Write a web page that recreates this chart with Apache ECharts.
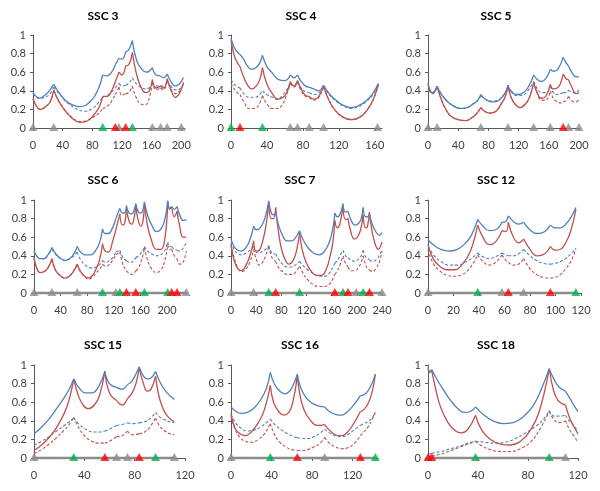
<!DOCTYPE html>
<html>
<head>
<meta charset="utf-8">
<script src="https://cdn.jsdelivr.net/npm/echarts@6/dist/echarts.min.js"></script>
<style>html,body{margin:0;padding:0;background:#fff}#c{width:600px;height:491px}</style>
</head>
<body>
<div id="c"></div>
<script>
// ---------------- DATA ----------------
const titles = ['SSC 3','SSC 4','SSC 5','SSC 6','SSC 7','SSC 12','SSC 15','SSC 16','SSC 18'];
const yTicks = [0, 0.2, 0.4, 0.6, 0.8, 1];
const xTicks3 = [0,40,80,120,160,200];
const xTicks4 = [0,40,80,120,160];
const xTicks5 = [0,40,80,120,160,200];
const xTicks6 = [0,40,80,120,160,200];
const xTicks7 = [0,40,80,120,160,200,240];
const xTicks12 = [0,20,40,60,80,100,120];
const xTicks15 = [0,40,80,120];
const xTicks16 = [0,40,80,120];
const xTicks18 = [0,40,80,120];

// SSC 3
const grey3 = [0,28,116,161,172,181,200];
const green3 = [94,134];
const red3m = [111,125];
const blue3 = [[0,.38],[4,.34],[8,.32],[14,.34],[20,.38],[28,.47],[36,.37],[48,.27],[63,.23],[78,.29],[88,.42],[94,.57],[100,.56],[106,.6],[111,.68],[116,.75],[120,.74],[125,.82],[129,.84],[134,.94],[140,.72],[147,.63],[153,.6],[161,.65],[166,.57],[172,.56],[176,.54],[181,.58],[186,.5],[192,.45],[197,.47],[203,.54]];
const red3 = [[0,.32],[5,.23],[10,.2],[17,.23],[23,.28],[28,.41],[34,.3],[42,.2],[52,.11],[63,.06],[72,.07],[82,.14],[89,.22],[94,.34],[100,.34],[106,.4],[111,.5],[116,.6],[120,.57],[125,.67],[129,.68],[134,.81],[139,.6],[145,.45],[152,.38],[157,.4],[161,.52],[166,.43],[172,.45],[176,.43],[181,.53],[186,.41],[192,.33],[198,.38],[203,.49]];
const blueD3 = [[0,.37],[8,.32],[16,.33],[23,.37],[28,.44],[36,.36],[48,.26],[60,.2],[70,.18],[80,.21],[88,.27],[94,.33],[100,.35],[106,.39],[111,.43],[116,.48],[120,.45],[125,.46],[129,.48],[134,.54],[140,.47],[147,.43],[154,.42],[161,.49],[166,.45],[172,.46],[176,.45],[181,.5],[187,.44],[193,.41],[198,.42],[203,.47]];
const redD3 = [[0,.31],[5,.23],[10,.2],[17,.23],[23,.28],[28,.4],[34,.3],[42,.2],[52,.12],[63,.07],[72,.08],[82,.12],[89,.16],[94,.21],[100,.23],[106,.29],[111,.36],[116,.44],[120,.35],[125,.37],[129,.38],[134,.45],[139,.33],[145,.26],[151,.25],[156,.3],[161,.5],[166,.41],[172,.43],[176,.41],[181,.52],[186,.42],[192,.37],[198,.4],[203,.48]];

// SSC 4
const grey4 = [66,74,87,103,163];
const green4 = [0,35];
const red4m = [10];
const blue4 = [[0,.97],[3,.88],[6,.83],[10,.79],[14,.74],[18,.67],[23,.63],[28,.65],[32,.7],[35,.78],[40,.66],[46,.59],[53,.52],[60,.51],[66,.57],[70,.54],[74,.57],[78,.5],[83,.45],[87,.44],[92,.42],[97,.4],[103,.46],[110,.36],[118,.29],[126,.24],[134,.22],[142,.24],[150,.29],[157,.36],[164,.48]];
const red4 = [[0,.95],[3,.8],[6,.72],[10,.66],[14,.55],[18,.47],[23,.42],[28,.45],[32,.52],[35,.65],[40,.47],[46,.37],[52,.31],[58,.33],[62,.38],[66,.5],[70,.45],[74,.51],[78,.42],[83,.35],[87,.34],[92,.31],[97,.33],[103,.45],[108,.32],[115,.2],[124,.12],[134,.09],[144,.12],[152,.2],[158,.3],[164,.47]];
const blueD4 = [[0,.52],[3,.48],[6,.45],[10,.43],[15,.36],[20,.33],[26,.33],[31,.35],[35,.4],[40,.36],[46,.33],[52,.31],[58,.36],[62,.41],[66,.48],[70,.45],[74,.5],[78,.43],[83,.39],[87,.38],[92,.36],[97,.37],[103,.45],[110,.35],[118,.28],[126,.23],[134,.21],[142,.23],[150,.28],[157,.35],[164,.47]];
const redD4 = [[0,.48],[3,.43],[6,.39],[10,.36],[15,.27],[20,.21],[26,.21],[31,.25],[35,.35],[40,.26],[46,.21],[52,.21],[58,.27],[62,.36],[66,.48],[70,.44],[74,.49],[78,.4],[83,.34],[87,.33],[92,.3],[97,.32],[103,.44],[108,.32],[115,.2],[124,.12],[134,.09],[144,.12],[152,.2],[158,.3],[164,.46]];

// SSC 5
const grey5 = [0,12,70,106,140,162,186,200];
const green5 = [];
const red5m = [179];
const blue5 = [[0,.42],[3,.39],[6,.38],[9,.4],[12,.45],[18,.36],[25,.29],[33,.24],[43,.21],[52,.22],[60,.26],[66,.3],[70,.36],[76,.31],[84,.28],[92,.29],[100,.35],[106,.45],[111,.39],[117,.36],[124,.37],[132,.43],[140,.57],[145,.52],[150,.5],[156,.53],[162,.63],[167,.61],[172,.63],[179,.76],[183,.7],[186,.67],[191,.59],[196,.55],[200,.55]];
const red5 = [[0,.48],[3,.4],[6,.37],[9,.39],[12,.45],[17,.32],[23,.21],[30,.13],[40,.09],[50,.08],[58,.11],[64,.15],[70,.22],[75,.18],[82,.16],[90,.18],[97,.26],[102,.33],[106,.46],[110,.33],[116,.25],[122,.22],[128,.25],[134,.32],[140,.49],[145,.37],[150,.32],[156,.34],[162,.47],[166,.42],[171,.43],[175,.47],[179,.58],[183,.53],[186,.52],[191,.43],[196,.37],[200,.38]];
const blueD5 = [[0,.41],[3,.39],[6,.38],[9,.4],[12,.44],[18,.36],[25,.29],[33,.24],[43,.21],[52,.22],[60,.26],[66,.3],[70,.35],[76,.31],[84,.29],[92,.3],[100,.35],[106,.44],[111,.38],[117,.35],[124,.35],[132,.4],[140,.5],[145,.42],[150,.38],[156,.38],[162,.45],[167,.37],[172,.36],[176,.37],[179,.38],[183,.38],[186,.41],[191,.38],[196,.38],[200,.41]];
const redD5 = [[0,.47],[3,.4],[6,.37],[9,.39],[12,.45],[17,.32],[23,.21],[30,.13],[40,.09],[50,.08],[58,.11],[64,.15],[70,.22],[75,.18],[82,.16],[90,.18],[97,.26],[102,.33],[106,.46],[110,.33],[116,.25],[122,.22],[128,.25],[134,.32],[140,.49],[145,.37],[150,.3],[156,.3],[162,.4],[166,.32],[171,.28],[176,.27],[179,.28],[183,.3],[186,.34],[191,.29],[196,.28],[200,.31]];

// SSC 6
const grey6 = [0,27,65,123,229];
const green6 = [103,129,166,201];
const red6m = [139,153,207,215];
const blue6 = [[0,.45],[4,.4],[9,.37],[15,.37],[21,.41],[27,.49],[33,.42],[40,.37],[47,.35],[54,.37],[60,.42],[65,.5],[70,.44],[77,.41],[85,.41],[93,.46],[99,.55],[103,.69],[107,.64],[112,.64],[118,.7],[123,.8],[129,.91],[133,.86],[136,.86],[139,.94],[143,.86],[147,.85],[150,.88],[153,.96],[157,.87],[161,.86],[164,.9],[166,.98],[171,.83],[177,.73],[184,.66],[190,.68],[196,.77],[201,.99],[204,.91],[207,.93],[211,.9],[215,.93],[219,.84],[224,.78],[229,.79]];
const red6 = [[0,.38],[4,.27],[9,.22],[15,.23],[21,.27],[27,.37],[32,.25],[39,.19],[46,.16],[53,.18],[59,.23],[65,.31],[70,.23],[76,.18],[82,.16],[88,.19],[94,.27],[99,.37],[103,.53],[107,.45],[112,.44],[118,.55],[123,.68],[129,.85],[133,.73],[136,.74],[139,.91],[143,.77],[147,.74],[150,.79],[153,.94],[157,.77],[161,.72],[164,.78],[166,.96],[170,.75],[176,.58],[184,.47],[191,.47],[197,.6],[201,.98],[204,.9],[207,.93],[211,.82],[215,.88],[219,.72],[224,.6],[229,.6]];
const blueD6 = [[0,.44],[4,.4],[9,.37],[15,.37],[21,.41],[27,.47],[33,.41],[40,.37],[47,.35],[54,.37],[60,.4],[65,.44],[70,.36],[77,.3],[85,.27],[93,.28],[99,.31],[103,.35],[107,.33],[112,.34],[118,.38],[123,.44],[129,.46],[133,.39],[136,.36],[139,.35],[143,.33],[147,.33],[150,.35],[153,.38],[157,.4],[161,.43],[164,.46],[166,.5],[171,.45],[177,.42],[184,.4],[190,.41],[196,.45],[201,.55],[204,.5],[207,.5],[211,.47],[215,.46],[219,.45],[224,.48],[229,.54]];
const redD6 = [[0,.37],[4,.27],[9,.22],[15,.23],[21,.27],[27,.36],[32,.25],[39,.19],[46,.16],[53,.18],[59,.23],[65,.31],[70,.23],[76,.18],[82,.15],[88,.17],[94,.22],[99,.26],[103,.31],[107,.29],[112,.3],[118,.35],[123,.41],[129,.44],[133,.32],[136,.27],[139,.24],[143,.21],[147,.2],[150,.21],[153,.24],[157,.27],[161,.34],[164,.41],[166,.49],[170,.37],[176,.27],[184,.22],[191,.25],[197,.36],[201,.52],[204,.47],[207,.47],[211,.4],[215,.37],[219,.31],[224,.33],[229,.45]];

// SSC 7
const grey7 = [0,36,199,240];
const green7 = [60,109,178,210];
const red7m = [71,165,186,220];
const blue7 = [[0,.58],[5,.5],[11,.46],[17,.45],[24,.49],[30,.57],[36,.72],[40,.68],[45,.69],[50,.74],[55,.83],[60,.99],[64,.86],[67,.84],[71,.86],[76,.72],[82,.62],[89,.56],[96,.56],[102,.59],[109,.67],[114,.58],[122,.49],[131,.43],[140,.41],[149,.45],[157,.56],[162,.7],[165,.86],[169,.82],[173,.84],[178,.96],[182,.87],[186,.88],[191,.78],[197,.73],[203,.75],[207,.8],[210,.92],[214,.82],[217,.82],[220,.85],[225,.73],[231,.65],[236,.62],[240,.65]];
const red7 = [[0,.52],[5,.35],[11,.26],[17,.24],[24,.3],[30,.4],[36,.56],[40,.45],[45,.46],[50,.55],[55,.7],[60,.96],[64,.8],[67,.8],[71,.92],[75,.68],[80,.48],[86,.36],[92,.31],[98,.34],[104,.45],[109,.65],[113,.47],[120,.32],[128,.23],[136,.19],[144,.19],[151,.25],[157,.38],[162,.55],[165,.78],[169,.7],[173,.74],[178,.93],[182,.79],[186,.8],[190,.67],[196,.58],[201,.6],[206,.68],[210,.84],[214,.7],[217,.72],[220,.87],[224,.67],[229,.53],[234,.47],[240,.55]];
const blueD7 = [[0,.55],[5,.47],[11,.42],[17,.41],[24,.43],[30,.46],[36,.5],[40,.44],[45,.43],[50,.45],[55,.47],[60,.51],[64,.44],[67,.42],[71,.42],[76,.36],[82,.31],[89,.28],[96,.28],[102,.3],[109,.34],[114,.3],[122,.25],[131,.21],[140,.18],[149,.18],[157,.22],[162,.28],[165,.32],[169,.35],[173,.4],[178,.46],[182,.4],[186,.38],[191,.35],[197,.34],[203,.37],[207,.4],[210,.46],[214,.39],[217,.37],[220,.36],[225,.34],[231,.36],[236,.41],[240,.47]];
const redD7 = [[0,.52],[5,.38],[11,.27],[17,.23],[24,.26],[30,.33],[36,.47],[40,.37],[45,.3],[50,.33],[55,.4],[60,.5],[64,.4],[67,.36],[71,.34],[76,.27],[82,.23],[89,.2],[96,.2],[102,.22],[109,.29],[114,.22],[122,.14],[131,.09],[140,.07],[149,.07],[157,.1],[162,.15],[165,.2],[169,.24],[173,.3],[178,.4],[182,.32],[186,.28],[191,.24],[197,.24],[203,.28],[207,.33],[210,.4],[214,.3],[217,.26],[220,.25],[225,.23],[231,.27],[236,.34],[240,.45]];

// SSC 12
const grey12 = [0,58,75];
const green12 = [39,116];
const red12m = [63,96];
const blue12 = [[0,.57],[5,.51],[10,.47],[16,.45],[23,.47],[29,.53],[34,.62],[39,.79],[43,.72],[48,.67],[53,.68],[58,.76],[61,.77],[63,.83],[67,.77],[71,.74],[75,.76],[80,.68],[85,.64],[90,.65],[96,.73],[100,.7],[104,.7],[108,.74],[112,.81],[116,.92]];
const red12 = [[0,.52],[4,.37],[9,.29],[15,.25],[21,.25],[27,.31],[33,.44],[39,.73],[43,.6],[48,.52],[53,.55],[58,.67],[61,.66],[63,.76],[67,.6],[71,.54],[75,.58],[80,.47],[85,.4],[90,.41],[96,.5],[100,.46],[104,.47],[108,.54],[112,.67],[116,.9]];
const blueD12 = [[0,.5],[5,.4],[10,.34],[16,.3],[23,.3],[29,.33],[34,.37],[39,.43],[43,.39],[48,.37],[53,.39],[58,.43],[61,.41],[63,.4],[67,.4],[71,.42],[75,.47],[80,.4],[85,.35],[90,.32],[96,.31],[100,.32],[104,.34],[108,.37],[112,.42],[116,.48]];
const redD12 = [[0,.47],[4,.32],[9,.24],[15,.19],[21,.18],[27,.2],[33,.27],[39,.41],[43,.34],[48,.3],[53,.33],[58,.41],[61,.35],[63,.33],[67,.3],[71,.31],[75,.37],[80,.26],[85,.2],[90,.17],[96,.16],[100,.17],[104,.2],[108,.26],[112,.34],[116,.47]];

// SSC 15
const grey15 = [0,65.6,74.3,111.5];
const green15 = [31.6,96.6];
const red15m = [56.3,83.6];
const blue15 = [[0,.26],[6,.33],[12,.42],[18,.53],[24,.65],[28,.74],[31.6,.85],[36,.75],[41,.7],[46,.7],[51,.76],[56.3,.93],[60,.8],[65.6,.76],[70,.74],[74.3,.79],[78,.83],[83.6,.98],[87,.88],[90,.85],[93,.86],[96.6,.93],[100,.82],[104,.73],[108,.67],[111.5,.63]];
const red15 = [[0,.08],[6,.14],[12,.22],[18,.33],[24,.48],[28,.63],[31.6,.85],[35,.68],[39,.57],[43,.53],[48,.57],[52,.67],[56.3,.93],[60,.7],[65.6,.62],[70,.57],[74.3,.64],[78,.7],[81,.8],[83.6,.97],[87,.8],[90,.72],[93,.74],[96.6,.88],[99,.68],[102,.55],[106,.45],[111.5,.39]];
const blueD15 = [[0,.14],[6,.18],[12,.23],[18,.29],[24,.35],[28,.39],[31.6,.43],[36,.36],[42,.3],[48,.28],[53,.28],[56.3,.29],[60,.31],[65.6,.35],[70,.36],[74.3,.38],[78,.37],[83.6,.38],[88,.39],[92,.42],[96.6,.49],[100,.44],[104,.41],[108,.39],[111.5,.38]];
const redD15 = [[0,.05],[6,.09],[12,.15],[18,.22],[24,.3],[28,.36],[31.6,.44],[35,.34],[40,.24],[46,.18],[51,.16],[56.3,.16],[60,.18],[65.6,.23],[70,.24],[74.3,.29],[78,.25],[83.6,.26],[88,.28],[92,.33],[96.6,.43],[100,.34],[104,.29],[108,.26],[111.5,.25]];

// SSC 16
const grey16 = [0,92.4];
const green16 = [38.8,142.4];
const red16m = [65.4,127.6];
const blue16 = [[0,.55],[5,.5],[10,.48],[16,.49],[23,.54],[30,.64],[35,.75],[38.8,.92],[43,.79],[48,.72],[53,.69],[58,.72],[62,.8],[65.4,.9],[69,.75],[74,.65],[80,.59],[86,.56],[92.4,.55],[97,.5],[103,.47],[109,.46],[115,.5],[121,.57],[127.6,.67],[131,.68],[135,.72],[139,.8],[142.4,.9]];
const red16 = [[0,.48],[4,.32],[9,.26],[14,.24],[20,.28],[27,.38],[33,.52],[38.8,.78],[42,.6],[47,.5],[52,.46],[57,.49],[61,.6],[65.4,.88],[68,.68],[72,.52],[78,.41],[85,.35],[92.4,.36],[97,.3],[103,.25],[109,.24],[115,.28],[121,.37],[127.6,.5],[131,.52],[135,.58],[139,.7],[142.4,.9]];
const blueD16 = [[0,.47],[5,.37],[10,.32],[16,.29],[23,.3],[30,.34],[35,.38],[38.8,.42],[44,.35],[50,.3],[56,.26],[62,.23],[65.4,.22],[70,.21],[76,.21],[82,.23],[88,.27],[92.4,.31],[97,.27],[103,.24],[109,.23],[115,.25],[121,.3],[127.6,.35],[131,.37],[135,.39],[139,.43],[142.4,.49]];
const redD16 = [[0,.45],[4,.31],[9,.22],[14,.18],[20,.17],[27,.2],[33,.26],[38.8,.37],[43,.25],[48,.17],[54,.12],[60,.09],[65.4,.08],[70,.08],[76,.09],[82,.12],[88,.16],[92.4,.22],[97,.16],[103,.12],[109,.1],[115,.11],[121,.15],[127.6,.24],[131,.28],[135,.33],[139,.41],[142.4,.49]];

// SSC 18
const grey18 = [110];
const green18 = [38,97];
const red18m = [0,3];
const blue18 = [[0,1.0],[1.5,.93],[3,.95],[7,.85],[12,.74],[18,.62],[24,.53],[29,.49],[34,.5],[38,.55],[44,.47],[52,.4],[60,.37],[68,.38],[76,.44],[84,.56],[90,.72],[97,.96],[101,.84],[105,.76],[110,.72],[114,.63],[117,.56],[120,.5]];
const red18 = [[0,.96],[1.5,.92],[3,.94],[6,.75],[10,.55],[16,.38],[22,.29],[27,.27],[32,.31],[38,.46],[43,.3],[50,.2],[58,.15],[66,.14],[74,.18],[82,.3],[89,.5],[97,.96],[100,.75],[104,.62],[110,.57],[113,.44],[117,.33],[120,.26]];
const blueD18 = [[0,.04],[3,.05],[10,.07],[18,.1],[26,.13],[32,.16],[38,.18],[45,.17],[53,.16],[62,.17],[70,.21],[78,.27],[86,.34],[92,.41],[97,.51],[101,.45],[105,.45],[110,.46],[113,.4],[117,.34],[120,.29]];
const redD18 = [[0,.02],[3,.02],[10,.04],[18,.08],[26,.12],[32,.15],[38,.18],[43,.13],[50,.09],[58,.07],[66,.07],[74,.1],[82,.17],[89,.3],[97,.5],[101,.41],[105,.38],[110,.4],[113,.31],[117,.23],[120,.17]];

// ---------------- ASSEMBLY ----------------
const panels = [
  {blue:blue3, red:red3, blueD:blueD3, redD:redD3, grey:grey3, green:green3, redM:red3m, ticks:xTicks3, xmax:205},
  {blue:blue4, red:red4, blueD:blueD4, redD:redD4, grey:grey4, green:green4, redM:red4m, ticks:xTicks4, xmax:168},
  {blue:blue5, red:red5, blueD:blueD5, redD:redD5, grey:grey5, green:green5, redM:red5m, ticks:xTicks5, xmax:200},
  {blue:blue6, red:red6, blueD:blueD6, redD:redD6, grey:grey6, green:green6, redM:red6m, ticks:xTicks6, xmax:230},
  {blue:blue7, red:red7, blueD:blueD7, redD:redD7, grey:grey7, green:green7, redM:red7m, ticks:xTicks7, xmax:240},
  {blue:blue12, red:red12, blueD:blueD12, redD:redD12, grey:grey12, green:green12, redM:red12m, ticks:xTicks12, xmax:120},
  {blue:blue15, red:red15, blueD:blueD15, redD:redD15, grey:grey15, green:green15, redM:red15m, ticks:xTicks15, xmax:120},
  {blue:blue16, red:red16, blueD:blueD16, redD:redD16, grey:grey16, green:green16, redM:red16m, ticks:xTicks16, xmax:145},
  {blue:blue18, red:red18, blueD:blueD18, redD:redD18, grey:grey18, green:green18, redM:red18m, ticks:xTicks18, xmax:120}
];
// layout (pixels)
const layout = [
  {l:33, t:35, w:152, tx:103, ty:16},
  {l:231, t:35, w:151, tx:301, ty:16},
  {l:428, t:35, w:151, tx:496, ty:16},
  {l:34, t:200, w:153, tx:103, ty:180},
  {l:231, t:200, w:151, tx:300, ty:180},
  {l:428, t:200, w:153, tx:496, ty:180},
  {l:34, t:365, w:151, tx:103, ty:345},
  {l:231, t:365, w:147, tx:300, ty:345},
  {l:428, t:365, w:150, tx:496, ty:345}
];
const FONT = 'Lato, "Open Sans", sans-serif';
const BLUE = '#4F81BD', RED = '#C0504D';

function splitSegments(points, cuts) {
  const segs = []; let cur = [];
  points.forEach((p, i) => {
    cur.push(p);
    if (i > 0 && i < points.length - 1 && cuts.has(p[0])) { segs.push(cur); cur = [p]; }
  });
  if (cur.length > 1) segs.push(cur);
  return segs;
}

const grids = [], xAxes = [], yAxes = [], series = [], graphics = [];
panels.forEach((p, k) => {
  const L = layout[k];
  grids.push({left: L.l, top: L.t, width: L.w, height: 93, containLabel: false});
  xAxes.push({
    type: 'value', gridIndex: k, min: 0, max: p.xmax,
    axisLine: {show: true, onZero: false, lineStyle: {color: '#595959', width: 1}},
    axisTick: {show: true, length: 3, customValues: p.ticks, lineStyle: {color: '#595959'}},
    axisLabel: {customValues: p.ticks, margin: 12, fontSize: 11, color: '#404040', fontFamily: FONT},
    splitLine: {show: false}
  });
  yAxes.push({
    type: 'value', gridIndex: k, min: 0, max: 1, interval: 0.2,
    axisLine: {show: true, lineStyle: {color: '#595959', width: 1}},
    axisTick: {show: true, length: 3, customValues: yTicks, lineStyle: {color: '#595959'}},
    axisLabel: {customValues: yTicks, margin: 7, fontSize: 11, color: '#404040', fontFamily: FONT},
    splitLine: {show: false}
  });
  graphics.push({type: 'text', x: L.tx, y: L.ty, style: {text: titles[k], fill: '#000', font: 'bold 12px ' + FONT, textAlign: 'center', textVerticalAlign: 'middle'}});

  const cuts = new Set([].concat(p.grey, p.green, p.redM));
  const lines = [
    {pts: p.redD, color: RED, dashed: true, w: 1.1},
    {pts: p.blueD, color: BLUE, dashed: true, w: 1.1},
    {pts: p.red, color: RED, dashed: false, w: 1.3},
    {pts: p.blue, color: BLUE, dashed: false, w: 1.3}
  ];
  lines.forEach((ln, li) => {
    splitSegments(ln.pts, cuts).forEach(seg => {
      series.push({
        type: 'line', xAxisIndex: k, yAxisIndex: k, data: seg,
        smooth: 0.45, showSymbol: false, silent: true, clip: false, z: 2 + li,
        lineStyle: {color: ln.color, width: ln.w, type: ln.dashed ? [3, 2] : 'solid'}
      });
    });
  });
  // marker baseline (rows 2 & 3)
  if (k >= 3) {
    const all = [].concat(p.grey, p.green, p.redM);
    const lo = Math.min.apply(null, all), hi = Math.max.apply(null, all);
    series.push({type: 'line', xAxisIndex: k, yAxisIndex: k, data: [[lo, 0], [hi, 0]], showSymbol: false, silent: true, clip: false, z: 7,
      lineStyle: {color: '#8C8C8C', width: 2.5}});
  }
  [[p.grey, '#8C8C8C'], [p.green, '#00B050'], [p.redM, '#FF0000']].forEach(([xs, c]) => {
    if (!xs.length) return;
    series.push({type: 'scatter', xAxisIndex: k, yAxisIndex: k, data: xs.map(x => [x, 0]),
      symbol: 'triangle', symbolSize: [9, 8], symbolOffset: [0, -1], clip: false, silent: true, z: 8,
      itemStyle: {color: c}});
  });
});

const chart = echarts.init(document.getElementById('c'), null, {renderer: 'canvas'});
chart.setOption({
  animation: false,
  backgroundColor: '#fff',
  grid: grids, xAxis: xAxes, yAxis: yAxes, series: series, graphic: graphics
});
</script>
</body>
</html>
